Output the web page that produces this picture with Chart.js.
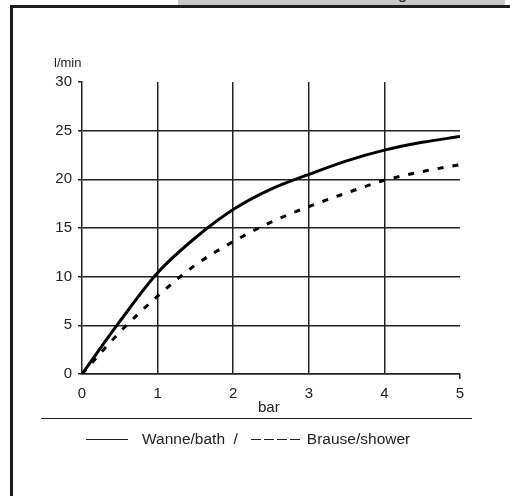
<!DOCTYPE html>
<html>
<head>
<meta charset="utf-8">
<script src="https://cdn.jsdelivr.net/npm/chart.js@4/dist/chart.umd.min.js"></script>
<style>
  html, body { margin: 0; padding: 0; background: #fff; overflow: hidden; }
  body { width: 510px; height: 496px; position: relative; font-family: "Liberation Sans", Arial, sans-serif; color: #222; }
  #frame { position: absolute; left: 10px; top: 5px; width: 600px; height: 600px; border-left: 3px solid #1c1c1c; border-top: 3px solid #1c1c1c; }
  #topbar { position: absolute; left: 178px; top: 0; width: 327px; height: 5px; background: #c8c8c8; overflow: hidden; }
  #topbar span { position: absolute; left: 220px; top: -15px; font-size: 16px; color: #222; }
  #chart { position: absolute; left: 0; top: 0; }
  .txt { position: absolute; white-space: nowrap; line-height: 1; }
  #unit { left: 54px; top: 56px; font-size: 13px; }
  #xname { left: 258px; top: 399px; font-size: 15px; }
  #sep { position: absolute; left: 41px; top: 418px; width: 431px; height: 0; border-top: 1.5px solid #222; }
  #legend { position: absolute; left: 86px; top: 431px; font-size: 15.5px; white-space: nowrap; line-height: 1; }
  .solid { display: inline-block; width: 42px; border-top: 1.5px solid #222; vertical-align: middle; margin-right: 14px; }
  .dash { display: inline-block; width: 10px; border-top: 1.5px solid #222; vertical-align: middle; margin-right: 3px; }
  .dash.last { margin-right: 7px; }
</style>
</head>
<body>
<div id="frame"></div>
<div id="topbar"><span>g</span></div>
<canvas id="chart" width="510" height="496"></canvas>
<div class="txt" id="unit">l/min</div>
<div class="txt" id="xname">bar</div>
<div id="sep"></div>
<div id="legend"><span class="solid"></span>Wanne/bath&nbsp;&nbsp;/&nbsp;&nbsp;&nbsp;<span class="dash"></span><span class="dash"></span><span class="dash"></span><span class="dash last"></span>Brause/shower</div>
<script>
    "use strict";

    // pressure in bar
    var pressure = [0, 0.5, 1, 1.5, 2, 2.5, 3, 3.5, 4, 4.5, 5];
    // flow in l/min
    var bathFlow = [0, 5.4, 10.4, 14.0, 16.9, 19.0, 20.5, 21.9, 23.0, 23.8, 24.4];
    var showerFlow = [0, 4.3, 8.0, 11.2, 13.6, 15.6, 17.2, 18.6, 19.9, 20.8, 21.5];

    var xTicks = [0, 1, 2, 3, 4, 5];
    var yTicks = [0, 5, 10, 15, 20, 25, 30];

    var ink = '#222';
    var none = 'rgba(0,0,0,0)';
    var tickFont = { family: '"Liberation Sans", Arial, sans-serif', size: 15 };

    function toPoints(xs, ys) {
        return xs.map(function (x, i) { return { x: x, y: ys[i] }; });
    }

    var ctx = document.getElementById('chart').getContext('2d');

    new Chart(ctx, {
        type: 'line',
        data: {
            datasets: [
                {
                    label: 'Wanne/bath',
                    data: toPoints(pressure, bathFlow),
                    borderColor: '#000',
                    borderWidth: 3,
                    pointRadius: 0,
                    cubicInterpolationMode: 'monotone',
                    fill: false
                },
                {
                    label: 'Brause/shower',
                    data: toPoints(pressure, showerFlow),
                    borderColor: '#000',
                    borderWidth: 3,
                    borderDash: [6, 9],
                    pointRadius: 0,
                    cubicInterpolationMode: 'monotone',
                    fill: false
                }
            ]
        },
        options: {
            responsive: false,
            animation: false,
            layout: { padding: { top: 82, right: 50, bottom: 74, left: 42 } },
            plugins: {
                legend: { display: false },
                tooltip: { enabled: false }
            },
            scales: {
                x: {
                    type: 'linear',
                    min: xTicks[0],
                    max: xTicks[xTicks.length - 1],
                    afterBuildTicks: function (scale) {
                        scale.ticks = xTicks.map(function (v) { return { value: v }; });
                    },
                    afterFit: function (scale) { scale.height = 48; },
                    ticks: { color: ink, font: tickFont, padding: 6, maxRotation: 0 },
                    grid: {
                        color: function (c) {
                            var v = c.tick && c.tick.value;
                            return (v === 0 || v === 5) ? none : ink;
                        },
                        tickColor: function (c) {
                            return (c.tick && c.tick.value === 5) ? ink : none;
                        },
                        lineWidth: 1.5,
                        tickLength: 5
                    },
                    border: { display: true, color: ink, width: 1.5 }
                },
                y: {
                    min: yTicks[0],
                    max: yTicks[yTicks.length - 1],
                    afterBuildTicks: function (scale) {
                        scale.ticks = yTicks.map(function (v) { return { value: v }; });
                    },
                    afterFit: function (scale) { scale.width = 40; },
                    ticks: { color: ink, font: tickFont, padding: 6 },
                    grid: {
                        color: function (c) {
                            return (c.tick && c.tick.value === 30) ? none : ink;
                        },
                        tickColor: ink,
                        lineWidth: 1.5,
                        tickLength: 4
                    },
                    border: { display: true, color: ink, width: 1.5 }
                }
            }
        }
    });
</script>
</body>
</html>
